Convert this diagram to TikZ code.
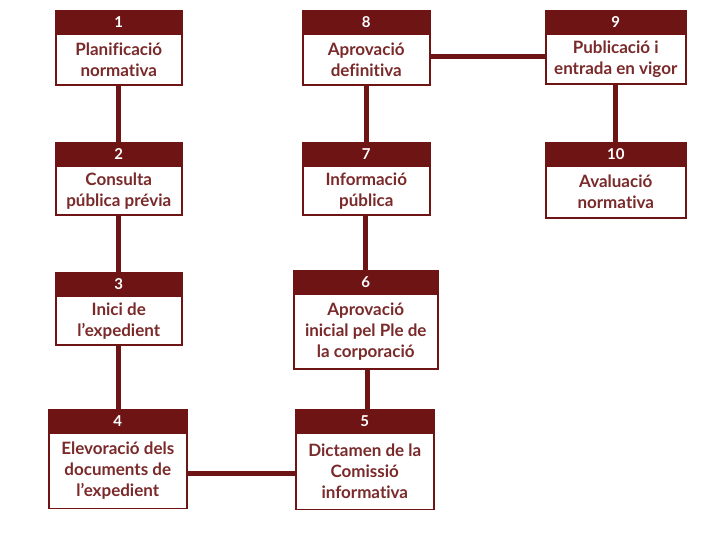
\documentclass[tikz,border=0pt]{standalone}
\usepackage{fontspec}
\setmainfont{Lato}[Ligatures={NoCommon,NoRare}]
\definecolor{maroon}{HTML}{6E1414}
\definecolor{textc}{HTML}{7A2A2A}
\tikzset{
  hdr/.style={fill=maroon, draw=maroon, line width=1.5pt, text=white,
    font=\bfseries\fontsize{15}{15}\selectfont, minimum height=22pt, inner sep=0pt, anchor=north west},
  body/.style={draw=maroon, line width=1.5pt, fill=white, text=textc,
    font=\bfseries\fontsize{17}{21}\selectfont, align=center, inner sep=0pt, anchor=north west},
  link/.style={draw=maroon, line width=5pt}
}
\newcommand\stepbox[7]{%
  \node[hdr, minimum width={(#3-#2)*1pt}] (h#1) at (#2,#4) {#6};
  \node[body, minimum width={(#3-#2)*1pt}, minimum height={(#5-#4-22)*1pt}] (b#1) at (h#1.south west) {#7};
}
\begin{document}
\begin{tikzpicture}[x=1pt,y=-1pt]
\useasboundingbox[fill=white] (0,0) rectangle (726,545);
\stepbox{1}{55}{181}{10}{83}{1}{Planificació\\normativa}
\stepbox{2}{55}{181}{142}{213}{2}{Consulta\\pública prévia}
\stepbox{3}{55}{181}{272}{343}{3}{Inici de\\l'expedient}
\stepbox{4}{48}{186}{409}{506}{4}{Elevoració dels\\documents de\\l'expedient}
\stepbox{5}{295}{433}{409}{507}{5}{Dictamen de la\\Comissió\\informativa}
\stepbox{6}{293}{437}{270}{367}{6}{Aprovació\\inicial pel Ple de\\la corporació}
\stepbox{7}{302}{429}{142}{213}{7}{Informació\\pública}
\stepbox{8}{302}{429}{10}{83}{8}{Aprovació\\definitiva}
\stepbox{9}{545}{685}{10}{82}{9}{Publicació i\\entrada en vigor}
\stepbox{10}{545}{685}{142}{216}{10}{Avaluació\\normativa}
\draw[link] (b1.south) -- (h2.north);
\draw[link] (b2.south) -- (h3.north);
\draw[link] (b3.south) -- (b3.south |- h4.north);
\draw[link] ([yshift=-2.5pt]b4.east) -- ([yshift=-2.5pt]b4.east -| b5.west);
\draw[link] ([xshift=3pt]h5.north) -- ([xshift=3pt]h5.north |- b6.south);
\draw[link] (h6.north) -- (h6.north |- b7.south);
\draw[link] (h7.north) -- (b8.south);
\draw[link] ([yshift=3pt]b8.east) -- ([yshift=3pt]b8.east -| b9.west);
\draw[link] (b9.south) -- (h10.north);
\end{tikzpicture}
\end{document}
